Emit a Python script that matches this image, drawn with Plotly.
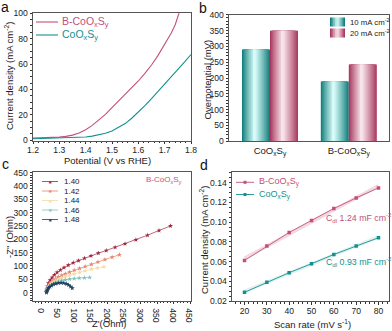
import plotly.graph_objects as go
import numpy as np

FONT = "Liberation Sans, Arial, sans-serif"
PINK = "#C4507A"
TEAL = "#12928F"

# ---------------- data ----------------
# (a) LSV
lsv_b_x = [1.20, 1.225, 1.25, 1.275, 1.30, 1.325, 1.35, 1.375, 1.40, 1.425, 1.45, 1.475,
           1.50, 1.525, 1.55, 1.575, 1.60, 1.625, 1.65, 1.675, 1.70, 1.725, 1.74, 1.75, 1.755]
lsv_b_y = [1.5, 1.6, 1.8, 2.0, 2.3, 2.9, 3.9, 5.6, 8.2, 11.6, 15.6, 20.3,
           25.6, 30.8, 36.0, 41.2, 46.6, 52.6, 59.2, 66.8, 75.4, 84.5, 91.0, 98.0, 100.5]
lsv_c_x = [1.20, 1.25, 1.30, 1.35, 1.40, 1.425, 1.45, 1.475, 1.50, 1.525, 1.55, 1.575,
           1.60, 1.625, 1.65, 1.675, 1.70, 1.725, 1.75, 1.775, 1.80]
lsv_c_y = [1.0, 1.2, 1.5, 1.8, 2.4, 3.1, 4.1, 5.4, 7.2, 9.8, 13.0, 17.2,
           22.0, 27.2, 32.6, 38.2, 44.0, 49.8, 55.6, 61.4, 67.5]

# (b) overpotential
b_categories = ["CoO<sub>x</sub>S<sub>y</sub>", "B-CoO<sub>x</sub>S<sub>y</sub>"]
eta_10 = [290, 189]
eta_20 = [349, 243]

# (c) Nyquist
eis_labels = ["1.40", "1.42", "1.44", "1.46", "1.48"]
eis_colors = ["#A3263F", "#E8846C", "#F2DCA6", "#7CC2BF", "#1F3F5E"]
z_re_140 = [14, 15, 17, 20, 25, 31, 38, 46, 56, 67, 80, 95, 111, 129, 149, 171, 195, 222, 252, 285, 320, 355, 390]
z_im_140 = [1, 12, 24, 36, 47, 57, 67, 76, 85, 94, 103, 112, 120, 129, 138, 148, 158, 170, 183, 198, 215, 233, 250]
z_re_142 = [14, 15, 17, 20, 24, 29, 35, 42, 50, 60, 71, 84, 98, 114, 131, 150, 170, 191, 213, 235]
z_im_142 = [1, 9, 18, 26, 34, 41, 47, 53, 59, 65, 71, 77, 84, 91, 98, 106, 115, 124, 133, 142]
z_re_144 = [14, 15, 17, 20, 24, 29, 35, 42, 50, 60, 71, 84, 98, 114, 131, 150, 169, 188]
z_im_144 = [1, 8, 15, 22, 28, 34, 40, 45, 50, 55, 60, 65, 70, 76, 82, 88, 93, 97]
z_re_146 = [14, 15, 17, 20, 24, 29, 35, 42, 50, 60, 71, 84, 98, 113, 129, 145]
z_im_146 = [1, 7, 13, 19, 24, 29, 34, 38, 42, 45, 48, 51, 53, 55, 56, 57]
z_re_148 = [14, 15, 17, 20, 24, 29, 35, 42, 50, 58, 66, 74, 81, 87, 92]
z_im_148 = [1, 6, 12, 17, 22, 27, 31, 34, 36, 37, 36, 33, 29, 23, 17]
eis_re = [z_re_140, z_re_142, z_re_144, z_re_146, z_re_148]
eis_im = [z_im_140, z_im_142, z_im_144, z_im_146, z_im_148]

# (d) Cdl
scan_rate = [20, 30, 40, 50, 60, 70, 80]
j_b = [0.0611, 0.0757, 0.0895, 0.1017, 0.1138, 0.1245, 0.1347]
j_c = [0.0288, 0.0389, 0.0487, 0.0578, 0.0672, 0.0757, 0.0841]

W, H = 392, 331
def px(x): return x / W
def py(y): return 1 - y / H

fig = go.Figure()

# ---- (a)
fig.add_trace(go.Scatter(x=lsv_b_x, y=lsv_b_y, mode="lines", line=dict(color=PINK, width=1.1),
                         xaxis="x", yaxis="y", showlegend=False))
fig.add_trace(go.Scatter(x=lsv_c_x, y=lsv_c_y, mode="lines", line=dict(color=TEAL, width=1.1),
                         xaxis="x", yaxis="y", showlegend=False))

# ---- (b) gradient bars as overlaid layers
def mix(c1, c2, t):
    a = [int(c1[i:i+2], 16) for i in (1, 3, 5)]
    b = [int(c2[i:i+2], 16) for i in (1, 3, 5)]
    return "rgb(%d,%d,%d)" % tuple(round(a[k] + (b[k] - a[k]) * t) for k in range(3))

BW = 0.355
NL = 14
grad = [("#137E7C", "#D6FBF8", eta_10, -BW), ("#A8385F", "#F7E3EA", eta_20, 0.0)]
for edge, light, vals, off0 in grad:
    for k in range(NL):
        t = k / (NL - 1)
        w = BW * (1 - 0.93 * t)
        fig.add_trace(go.Bar(x=[0, 1], y=vals, width=w, offset=off0 + (BW - w) * 0.46,
                             marker=dict(color=mix(edge, light, t ** 0.9), line=dict(width=0)),
                             xaxis="x2", yaxis="y2", showlegend=False, hoverinfo="skip"))

# ---- (c)
for lab, col, zr, zi in zip(eis_labels, eis_colors, eis_re, eis_im):
    fig.add_trace(go.Scatter(x=zr, y=zi, mode="lines+markers",
                             line=dict(color=col, width=0.7),
                             marker=dict(symbol="star", size=3.8, color=col),
                             xaxis="x3", yaxis="y3", showlegend=False))

# ---- (d)
for vals, col, op in ((j_b, PINK, 0.22), (j_c, TEAL, 0.12)):
    k, b0 = np.polyfit(scan_rate, vals, 1)
    fit = [k * s + b0 for s in scan_rate]
    fig.add_trace(go.Scatter(x=scan_rate, y=fit, mode="lines",
                             line=dict(color=col, width=3.5), opacity=op,
                             xaxis="x4", yaxis="y4", showlegend=False))
    fig.add_trace(go.Scatter(x=scan_rate, y=vals, mode="lines+markers",
                             line=dict(color=col, width=0.9),
                             marker=dict(symbol="square", size=3.5, color=col),
                             xaxis="x4", yaxis="y4", showlegend=False))

tickfont = dict(family=FONT, size=8.6, color="#222")
def ax(domain, rng, dtick, anchor, **kw):
    d = dict(domain=domain, range=rng, dtick=dtick, anchor=anchor, showgrid=False, zeroline=False,
             showline=True, mirror=True, linecolor="#555", linewidth=1,
             ticks="outside", ticklen=2.5, tickcolor="#333", tickfont=tickfont,
             minor=dict(ticks="outside", ticklen=1.6, tickcolor="#333"), automargin=False)
    d.update(kw)
    return d

fig.update_layout(
    width=W, height=H, margin=dict(l=0, r=0, t=0, b=0),
    paper_bgcolor="white", plot_bgcolor="white", barmode="overlay",
    font=dict(family=FONT, size=9, color="#222"),
    xaxis=ax([px(33), px(191)], [1.2, 1.8], 0.1, "y", tick0=1.2, tickformat=".1f", ticklabelstandoff=-2),
    yaxis=ax([py(140.7), py(13.3)], [-0.5, 100], 20, "x", tick0=0),
    xaxis2=ax([px(229), px(389)], [-0.52, 1.51], None, "y2", tickmode="array", tickvals=[0, 1],
              ticktext=b_categories, ticks="", minor=None),
    yaxis2=ax([py(141.3), py(14.7)], [0, 400], 50, "x2", tick0=0),
    xaxis3=ax([px(33), px(191)], [-27, 452], 50, "y3", tick0=0, ticklabelstandoff=-2),
    yaxis3=ax([py(300.7), py(172)], [-30, 452], 50, "x3", tick0=0),
    xaxis4=ax([px(232), px(389)], [14.4, 84.7], 10, "y4", tick0=0, ticklabelstandoff=-1),
    yaxis4=ax([py(301), py(172.3)], [0.02, 0.1505], 0.02, "x4", tick0=0, tickformat=".2f"),
)
fig.update_layout(xaxis2=dict(tickfont=dict(size=9.5)))

ann = []
shapes = []
def text(x, y, s, size=9.5, color="#222", angle=0, xanchor="center"):
    ann.append(dict(x=px(x), y=py(y), xref="paper", yref="paper", text=s, showarrow=False,
                    font=dict(family=FONT, size=size, color=color), textangle=angle,
                    xanchor=xanchor, yanchor="middle"))

# panel letters
text(5, 7, "a", 14, "#111")
text(203, 8, "b", 14, "#111")
text(5, 164, "c", 14, "#111")
text(204, 165, "d", 14, "#111")

# axis titles
text(9, 76, "Current density (mA cm<sup>-2</sup>)", 9.5, angle=-90)
text(108, 160, "Potential (V vs RHE)", 9.5)
text(206.5, 80, "Overpotential (mV)", 9.5, angle=-90)
text(9, 237, "-Z'' (Ohm)", 9.5, angle=-90)
text(110, 323.5, "Z'(Ohm)", 9.5)
text(204, 240, "Current density (mA cm<sup>-2</sup>)", 9.5, angle=-90)
text(312, 323.5, "Scan rate (mV s<sup>-1</sup>)", 9.5)

# legend (a)
for yy, col, lab in ((22, PINK, "B-CoO<sub>x</sub>S<sub>y</sub>"), (35, TEAL, "CoO<sub>x</sub>S<sub>y</sub>")):
    shapes.append(dict(type="line", xref="paper", yref="paper", x0=px(36), x1=px(58), y0=py(yy), y1=py(yy),
                       line=dict(color=col, width=1.1)))
    text(60, yy, lab, 10.5, col, xanchor="left")

# legend (b)
for yy, (edge, light) in ((22, ("#137E7C", "#D6FBF8")), (33, ("#A8385F", "#F7E3EA"))):
    n = 8
    for i in range(n):
        t = i / (n - 1)
        shapes.append(dict(type="rect", xref="paper", yref="paper",
                           x0=px(330 + 15 * i / n), x1=px(330 + 15 * (i + 1) / n),
                           y0=py(yy + 4.5), y1=py(yy - 4.5), line=dict(width=0),
                           fillcolor=mix(edge, light, 1 - abs(2 * t - 1))))
text(348, 22, "10 mA cm<sup>-2</sup>", 7.8, xanchor="left")
text(348, 33, "20 mA cm<sup>-2</sup>", 7.8, xanchor="left")

# legend (c)
for i, (lab, col) in enumerate(zip(eis_labels, eis_colors)):
    yy = 181.5 + 9.5 * i
    shapes.append(dict(type="line", xref="paper", yref="paper", x0=px(42), x1=px(58), y0=py(yy), y1=py(yy),
                       line=dict(color=col, width=0.8)))
    text(50, yy, "★", 5, col)
    text(62, yy, lab, 8, xanchor="left")
text(164, 180, "B-CoO<sub>x</sub>S<sub>y</sub>", 8, PINK)

# legend (d)
for yy, col, lab in ((182.3, PINK, "B-CoO<sub>x</sub>S<sub>y</sub>"), (194.5, TEAL, "CoO<sub>x</sub>S<sub>y</sub>")):
    shapes.append(dict(type="line", xref="paper", yref="paper", x0=px(236), x1=px(254), y0=py(yy), y1=py(yy),
                       line=dict(color=col, width=0.9)))
    shapes.append(dict(type="rect", xref="paper", yref="paper", x0=px(243.5), x1=px(246.5),
                       y0=py(yy + 1.5), y1=py(yy - 1.5), fillcolor=col, line=dict(width=0)))
    text(257, yy, lab, 9, col, xanchor="left")
text(324, 217, "C<sub>dl</sub> 1.24 mF cm<sup>-2</sup>", 8.8, PINK, xanchor="left")
text(324, 261, "C<sub>dl</sub> 0.93 mF cm<sup>-2</sup>", 8.8, TEAL, xanchor="left")

fig.update_layout(annotations=ann, shapes=shapes)
fig.write_html("out.html", config={"displayModeBar": False},
               post_script="document.body.style.margin='0';document.body.style.overflow='hidden';")
